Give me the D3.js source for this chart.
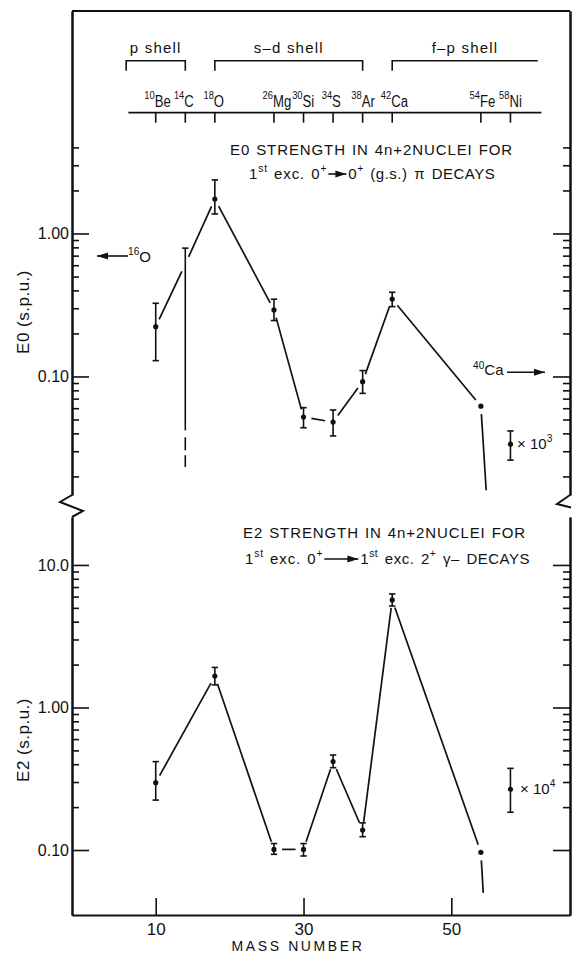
<!DOCTYPE html>
<html>
<head>
<meta charset="utf-8">
<script src="https://cdn.jsdelivr.net/npm/d3@7"></script>
<style>
	body { margin: 0; background: #fff; }
	text { font-family: "Liberation Sans", Arial, sans-serif; fill: #111; }
</style>
</head>
<body>
<svg id="chart" width="572" height="955"></svg>
<script>
// E0 strengths, 1st exc. 0+ -> 0+ (g.s.)
const massE0 = [10, 14, 18, 26, 30, 34, 38, 42, 54];
const e0Value = [0.223, 0.61, 1.74, 0.292, 0.052, 0.048, 0.092, 0.348, 0.062];
const e0High = [0.325, 0.79, 2.37, 0.347, 0.0605, 0.0583, 0.110, 0.388, null];
const e0Low = [0.129, 0.042, 1.37, 0.246, 0.0438, 0.0384, 0.0762, 0.308, null];
const e0UpperLimit = [14];            // 14C: no dot, bar runs down dashed
const c14DashedTail = [0.042, 0.0233];

// E2 strengths, 1st exc. 0+ -> 1st exc. 2+
const massE2 = [10, 18, 26, 30, 34, 38, 42, 54];
const e2Value = [0.297, 1.66, 0.101, 0.101, 0.417, 0.138, 5.68, 0.0963];
const e2High = [0.417, 1.91, 0.111, 0.111, 0.464, 0.155, 6.26, null];
const e2Low = [0.224, 1.44, 0.0933, 0.0908, 0.378, 0.124, 5.15, null];

// 58Ni is drawn scaled up; the line from 54Fe heads to its true value
const ni58Mass = 58;
const ni58E0 = [0.0336, 0.0416, 0.026];   // value, high, low (x 10^3)
const ni58E2 = [0.267, 0.374, 0.184];     // value, high, low (x 10^4)
const ni58E0Scale = 1e3, ni58E2Scale = 1e4;
const e0TailCut = 0.016, e2TailCut = 0.05;

const o16E0 = 0.696, ca40E0 = 0.107;

const nuclideMass = [10, 14, 18, 26, 30, 34, 38, 42, 54, 58];
const nuclideName = ["Be", "C", "O", "Mg", "Si", "S", "Ar", "Ca", "Fe", "Ni"];
const shellName = ["p  shell", "s\u2013d  shell", "f\u2013p  shell"];
const shellFrom = [6, 18, 42];
const shellTo = [14, 38, 61.7];
const shellOpen = [false, false, true];

const e0Major = [1, 0.1];
const e0Minor = [4, 3, 2, 0.9, 0.8, 0.7, 0.6, 0.5, 0.4, 0.3, 0.2,
	0.09, 0.08, 0.07, 0.06, 0.05, 0.04, 0.03, 0.02];
const e2Major = [10, 1, 0.1];
const e2Minor = [9, 8, 7, 6, 5, 4, 3, 2, 0.9, 0.8, 0.7, 0.6, 0.5, 0.4, 0.3, 0.2];
const massTicks = [10, 30, 50];

var svg = d3.select("#chart"),
	left = 72, right = 570,
	GAP = 8;

var x = d3.scaleLinear().domain([-1.33, 66.06]).range([left, right]);
var yTop = d3.scaleLog().domain([0.01483, 35.97]).range([495, 11]);
var yBot = d3.scaleLog().domain([0.035, 21.7]).range([915, 517]);

var fmt = function (d) { return d >= 10 ? d.toFixed(1) : d.toFixed(2); };

function richText(g, tx, ty, parts, size, anchor) {
	let t = g.append("text")
		.attr("x", tx).attr("y", ty)
		.attr("font-size", size)
		.attr("text-anchor", anchor || "start");
	let cur = 0;
	parts.forEach((p) => {
		let s = typeof p === "string" ? { t: p } : p;
		let rise = s.sup ? -size * 0.45 : 0;
		t.append("tspan")
			.attr("dy", rise - cur)
			.attr("font-size", s.sup ? size * 0.68 : size)
			.text(s.t);
		cur = rise;
	});
	return t;
}

function arrow(g, x1, x2, ay, headAtEnd) {
	g.append("line")
		.attr("x1", x1).attr("x2", x2).attr("y1", ay).attr("y2", ay)
		.attr("stroke", "#111").attr("stroke-width", 1.6);
	let hx = headAtEnd ? x2 : x1, dir = headAtEnd ? -1 : 1;
	g.append("path")
		.attr("d", `M${hx},${ay} L${hx + dir * 11},${ay - 3.5} L${hx + dir * 11},${ay + 3.5} Z`)
		.attr("fill", "#111");
}

function shorten(a, b, g0, g1) {
	let dx = b[0] - a[0], dy = b[1] - a[1], L = Math.hypot(dx, dy);
	return [[a[0] + dx * g0 / L, a[1] + dy * g0 / L], [b[0] - dx * g1 / L, b[1] - dy * g1 / L]];
}

function yAxes(scale, majors, minors) {
	let g = svg.append("g").attr("class", "yaxis");
	g.append("g").attr("transform", `translate(${left},0)`)
		.call(d3.axisLeft(scale).tickValues(minors).tickSizeInner(-7).tickSizeOuter(0).tickFormat(""));
	g.append("g").attr("transform", `translate(${left},0)`)
		.call(d3.axisLeft(scale).tickValues(majors).tickSizeInner(-17).tickSizeOuter(0)
			.tickPadding(3).tickFormat(fmt));
	g.append("g").attr("transform", `translate(${right},0)`)
		.call(d3.axisRight(scale).tickValues(minors).tickSizeInner(-7).tickSizeOuter(0).tickFormat(""));
	g.append("g").attr("transform", `translate(${right},0)`)
		.call(d3.axisRight(scale).tickValues(majors).tickSizeInner(-17).tickSizeOuter(0).tickFormat(""));
	g.selectAll(".domain").attr("stroke", "#111").attr("stroke-width", 2);
	g.selectAll(".tick line").attr("stroke", "#111").attr("stroke-width", 1.6);
	g.selectAll(".tick text")
		.attr("font-family", "Liberation Sans, Arial, sans-serif")
		.attr("font-size", 16).attr("fill", "#111");
}

function drawSeries(scale, mass, val, hi, lo, limits, tailTo, tailCut) {
	let g = svg.append("g").attr("class", "series");
	let pts = mass.map((m, i) => [x(m), scale(val[i])]);
	let segs = d3.pairs(pts).map(([a, b]) => shorten(a, b, GAP, GAP));
	// tail towards the true (unscaled) 58Ni value, cut short
	let last = pts[pts.length - 1];
	let far = [x(tailTo[0]), scale(tailTo[1])];
	let yc = scale(tailCut);
	let t = (yc - last[1]) / (far[1] - last[1]);
	segs.push(shorten(last, [last[0] + (far[0] - last[0]) * t, yc], GAP, 0));

	g.selectAll("line.seg").data(segs).join("line")
		.attr("class", "seg")
		.attr("x1", (d) => d[0][0]).attr("y1", (d) => d[0][1])
		.attr("x2", (d) => d[1][0]).attr("y2", (d) => d[1][1])
		.attr("stroke", "#111").attr("stroke-width", 1.7);

	let bars = mass.map((m, i) => ({ m: m, hi: hi[i], lo: lo[i], limit: limits.includes(m) }))
		.filter((d) => d.hi != null);
	errorBars(g, bars, scale);

	g.selectAll("circle").data(mass.map((m, i) => ({ m: m, v: val[i] }))
		.filter((d) => !limits.includes(d.m)))
		.join("circle")
		.attr("cx", (d) => x(d.m)).attr("cy", (d) => scale(d.v))
		.attr("r", 2.6).attr("fill", "#111");
	return g;
}

function errorBars(g, bars, scale) {
	g.selectAll(null).data(bars).join("line")
		.attr("x1", (d) => x(d.m)).attr("x2", (d) => x(d.m))
		.attr("y1", (d) => scale(d.lo)).attr("y2", (d) => scale(d.hi))
		.attr("stroke", "#111").attr("stroke-width", 1.6);
	let caps = [];
	bars.forEach((d) => {
		caps.push({ m: d.m, v: d.hi });
		if (!d.limit) caps.push({ m: d.m, v: d.lo });
	});
	g.selectAll(null).data(caps).join("line")
		.attr("x1", (d) => x(d.m) - 3.2).attr("x2", (d) => x(d.m) + 3.2)
		.attr("y1", (d) => scale(d.v)).attr("y2", (d) => scale(d.v))
		.attr("stroke", "#111").attr("stroke-width", 1.6);
}

function scaledMarker(scale, vals, power, tx) {
	let g = svg.append("g");
	errorBars(g, [{ m: ni58Mass, hi: vals[1], lo: vals[2], limit: false }], scale);
	g.append("circle").attr("cx", x(ni58Mass)).attr("cy", scale(vals[0])).attr("r", 2.6).attr("fill", "#111");
	richText(g, tx, scale(vals[0]) + 5, ["\u00d7 10", { t: power, sup: true }], 15);
}

function titleLine(tx, ty, leftParts, arrowLen, rightParts) {
	let g = svg.append("g");
	let a = richText(g, tx, ty, leftParts, 15).attr("letter-spacing", 0.9).attr("word-spacing", 1);
	if (!arrowLen) return;
	let ax = tx + a.node().getComputedTextLength() + 1;
	arrow(g, ax, ax + arrowLen, ty - 5, true);
	richText(g, ax + arrowLen + 2, ty, rightParts, 15).attr("letter-spacing", 0.5).attr("word-spacing", 2);
}

// ---- frame and axes ----
yAxes(yTop, e0Major, e0Minor);
yAxes(yBot, e2Major, e2Minor);

svg.append("line").attr("x1", left).attr("x2", right).attr("y1", 11).attr("y2", 11)
	.attr("stroke", "#111").attr("stroke-width", 2);

var xg = svg.append("g").attr("transform", "translate(0,915)")
	.call(d3.axisBottom(x).tickValues(massTicks).tickSizeInner(-17).tickSizeOuter(0).tickPadding(8));
xg.select(".domain").attr("stroke", "#111").attr("stroke-width", 2);
xg.selectAll(".tick line").attr("stroke", "#111").attr("stroke-width", 1.6);
xg.selectAll(".tick text").attr("font-family", "Liberation Sans, Arial, sans-serif")
	.attr("font-size", 17).attr("fill", "#111");

svg.append("text").attr("x", 298).attr("y", 951).attr("text-anchor", "middle")
	.attr("font-size", 14).attr("letter-spacing", 2.6).text("MASS  NUMBER");

// axis breaks
svg.append("path").attr("d", "M72,495 L60,502 L83,511 L72,517")
	.attr("fill", "none").attr("stroke", "#111").attr("stroke-width", 2);
svg.append("path").attr("d", "M570,495 L557,504 L571,507.5")
	.attr("fill", "none").attr("stroke", "#111").attr("stroke-width", 2);

svg.append("text").attr("transform", "translate(23,312) rotate(-90)")
	.attr("text-anchor", "middle").attr("dominant-baseline", "central")
	.attr("font-size", 17).attr("letter-spacing", 0.5).text("E0  (s.p.u.)");
svg.append("text").attr("transform", "translate(23,740) rotate(-90)")
	.attr("text-anchor", "middle").attr("dominant-baseline", "central")
	.attr("font-size", 17).attr("letter-spacing", 0.5).text("E2  (s.p.u.)");

// ---- nuclide header ----
var hdr = svg.append("g");
hdr.append("line").attr("x1", x(6.3)).attr("x2", x(62.2)).attr("y1", 112.7).attr("y2", 112.7)
	.attr("stroke", "#111").attr("stroke-width", 1.8);
hdr.selectAll("line.nt").data(nuclideMass).join("line").attr("class", "nt")
	.attr("x1", (d) => x(d)).attr("x2", (d) => x(d)).attr("y1", 112.7).attr("y2", 122.7)
	.attr("stroke", "#111").attr("stroke-width", 1.6);
nuclideMass.forEach((m, i) => {
	// narrow the letters a little, the original lettering is condensed
	hdr.append("text").attr("transform", `translate(${x(m) - 1},99) scale(0.85,1)`)
		.attr("font-size", 11).attr("text-anchor", "end").text(m);
	hdr.append("text").attr("transform", `translate(${x(m) - 1},106.7) scale(0.82,1)`)
		.attr("font-size", 16).text(nuclideName[i]);
});
shellName.forEach((s, i) => {
	let x0 = x(shellFrom[i]), x1 = x(shellTo[i]);
	let d = `M${x0},70.7 L${x0},60.7 L${x1},60.7` + (shellOpen[i] ? "" : ` L${x1},70.7`);
	hdr.append("path").attr("d", d).attr("fill", "none").attr("stroke", "#111").attr("stroke-width", 1.6);
	hdr.append("text").attr("x", (x0 + x1) / 2).attr("y", 52.7).attr("text-anchor", "middle")
		.attr("font-size", 15).attr("letter-spacing", 1.2).text(s);
});

// ---- E0 panel ----
titleLine(230, 155, ["E0  STRENGTH  IN  4n+2NUCLEI  FOR"], 0, []);
titleLine(249, 179, ["1", { t: "st", sup: true }, " exc. 0", { t: "+", sup: true }], 18,
	["0", { t: "+", sup: true }, " (g.s.) \u03c0  DECAYS"]);

drawSeries(yTop, massE0, e0Value, e0High, e0Low, e0UpperLimit,
	[ni58Mass, ni58E0[0] / ni58E0Scale], e0TailCut);
svg.append("line")
	.attr("x1", x(14)).attr("x2", x(14))
	.attr("y1", yTop(c14DashedTail[0])).attr("y2", yTop(c14DashedTail[1]))
	.attr("stroke", "#111").attr("stroke-width", 1.6).attr("stroke-dasharray", "0,7,13,5,12");
scaledMarker(yTop, ni58E0, "3", 517);

var ann = svg.append("g");
arrow(ann, 97, 128, yTop(o16E0), false);
richText(ann, 128, yTop(o16E0) + 6, [{ t: "16", sup: true }, "O"], 15);
richText(ann, 473, yTop(ca40E0) + 3, [{ t: "40", sup: true }, "Ca"], 15);
arrow(ann, 507, 545, yTop(ca40E0), true);

// ---- E2 panel ----
titleLine(243, 538, ["E2  STRENGTH  IN  4n+2NUCLEI  FOR"], 0, []);
titleLine(245, 564, ["1", { t: "st", sup: true }, " exc. 0", { t: "+", sup: true }], 34,
	["1", { t: "st", sup: true }, " exc. 2", { t: "+", sup: true }, " \u03b3\u2013 DECAYS"]);

drawSeries(yBot, massE2, e2Value, e2High, e2Low, [],
	[ni58Mass, ni58E2[0] / ni58E2Scale], e2TailCut);
scaledMarker(yBot, ni58E2, "4", 520);
</script>
</body>
</html>
